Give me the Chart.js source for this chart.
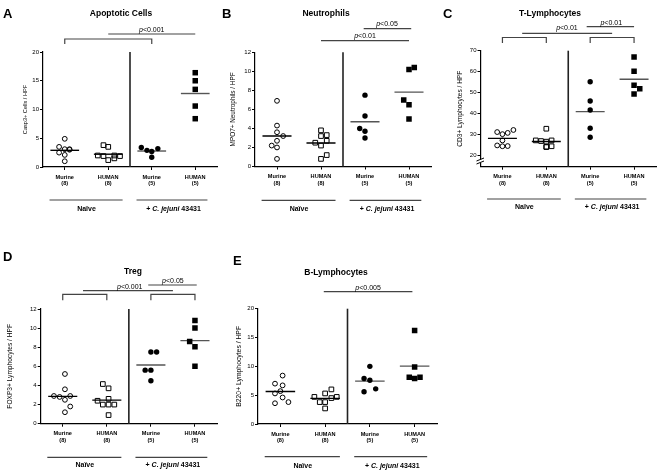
<!DOCTYPE html>
<html>
<head>
<meta charset="utf-8">
<script src="https://cdn.jsdelivr.net/npm/chart.js@4.4.1/dist/chart.umd.min.js"></script>
<style>
  body { margin: 0; background: #fff; width: 661px; height: 472px; position: relative; overflow: hidden; }
  canvas { position: absolute; }
</style>
</head>
<body>
<canvas id="cA" width="222" height="236" style="left:0;top:0"></canvas>
<canvas id="cB" width="222" height="236" style="left:220px;top:0"></canvas>
<canvas id="cC" width="221" height="236" style="left:440px;top:0"></canvas>
<canvas id="cD" width="222" height="236" style="left:0;top:236px"></canvas>
<canvas id="cE" width="230" height="236" style="left:220px;top:236px"></canvas>
<script>
// ---- data ----
const groupNames = ["Murine", "HUMAN", "Murine", "HUMAN"];
const groupSizes = ["(8)", "(8)", "(5)", "(5)"];

// A: apoptotic cells
const casp3MurNaive = [4.9, 3.5, 3.1, 3.0, 2.5, 2.1, 1.0, 3.1];
const casp3HumNaive = [3.8, 3.5, 2.0, 1.9, 2.0, 1.9, 1.2, 1.5];
const casp3MurCj = [3.4, 2.9, 2.7, 3.2, 1.7];
const casp3HumCj = [16.4, 15.0, 13.5, 10.6, 8.4];
const casp3Ticks = [0, 5, 10, 15, 20];

// B: neutrophils
const mpoMurNaive = [6.9, 4.3, 3.6, 3.2, 2.7, 2.2, 2.0, 0.8];
const mpoHumNaive = [3.8, 3.2, 3.3, 2.5, 2.7, 2.2, 1.2, 0.8];
const mpoMurCj = [7.5, 5.3, 4.0, 3.7, 3.0];
const mpoHumCj = [10.2, 10.4, 7.0, 6.5, 5.0];
const mpoTicks = [0, 2, 4, 6, 8, 10, 12];

// C: T-lymphocytes
const cd3MurNaive = [31.0, 30.0, 30.6, 32.0, 27.0, 24.6, 24.2, 24.3];
const cd3HumNaive = [32.6, 27.0, 26.7, 26.4, 27.0, 23.8, 24.2, 24.0];
const cd3MurCj = [55.1, 45.9, 41.6, 32.8, 28.5];
const cd3HumCj = [67.0, 60.1, 53.4, 51.8, 49.2];
const cd3Ticks = [20, 30, 40, 50, 60, 70];

// D: Treg
const foxp3MurNaive = [5.2, 3.6, 2.9, 2.8, 2.5, 2.9, 1.8, 1.2];
const foxp3HumNaive = [4.15, 3.7, 2.4, 2.6, 2.0, 2.0, 2.0, 0.9];
const foxp3MurCj = [7.5, 7.5, 5.6, 5.6, 4.5];
const foxp3HumCj = [10.8, 10.0, 8.6, 8.05, 6.0];
const foxp3Ticks = [0, 2, 4, 6, 8, 10, 12];

// E: B-lymphocytes
const b220MurNaive = [8.4, 7.0, 6.7, 5.7, 5.3, 4.6, 3.6, 3.8];
const b220HumNaive = [6.0, 5.3, 4.7, 4.7, 4.5, 3.8, 3.8, 2.7];
const b220MurCj = [10.0, 7.9, 7.6, 5.6, 6.1];
const b220HumCj = [16.2, 9.9, 8.1, 7.9, 8.1];
const b220Ticks = [0, 5, 10, 15, 20];

// sideways spread of the dots inside each column (category units)
const casp3Jitter = [[0, -0.13, 0, 0.11, -0.13, 0, 0, 0.11], [-0.11, 0, -0.24, -0.11, 0.14, 0.27, 0, 0.14], [-0.24, -0.11, 0, 0.14, 0], [0, 0, 0, 0, 0]];
const mpoJitter = [[0, 0, 0, 0.14, 0, -0.12, 0, 0], [0, 0, 0.13, -0.13, 0.13, 0, 0.13, 0], [0, 0, -0.12, 0, 0], [0, 0.12, -0.12, 0, 0]];
const cd3Jitter = [[-0.12, 0, 0.12, 0.25, 0, -0.12, 0, 0.12], [0, -0.24, -0.12, 0, 0.12, 0, 0.12, 0], [0, 0, 0, 0, 0], [0, 0, 0, 0.13, 0]];
const foxp3Jitter = [[0.05, 0.05, -0.2, -0.07, 0.05, 0.17, 0.17, 0.05], [-0.09, 0.04, -0.21, 0.04, -0.09, 0.04, 0.17, 0.04], [0, 0.13, -0.13, 0, 0], [0, 0, -0.12, 0, 0]];
const b220Jitter = [[0.05, -0.12, 0.05, 0, -0.12, 0.05, -0.12, 0.18], [0.14, 0, -0.24, 0.26, 0.14, -0.12, 0, 0], [0, -0.13, 0, -0.13, 0.13], [0, 0, -0.12, 0, 0.12]];

const FAM = "'Liberation Sans', Arial, sans-serif";
Chart.defaults.font.family = FAM;
Chart.defaults.color = "#000";

const mean = a => a.reduce((s, v) => s + v, 0) / a.length;

function seg(ctx, x1, y1, x2, y2, col, w) {
  ctx.beginPath();
  ctx.moveTo(x1, y1);
  ctx.lineTo(x2, y2);
  ctx.strokeStyle = col;
  ctx.lineWidth = w;
  ctx.stroke();
}

// draw pieces of text (some italic) centred on cx
function richText(ctx, parts, cx, by) {
  let w = 0;
  parts.forEach(pt => { ctx.font = pt[1]; w += ctx.measureText(pt[0]).width; });
  let x = cx - w / 2;
  ctx.textAlign = "left";
  ctx.textBaseline = "alphabetic";
  ctx.fillStyle = "#000";
  parts.forEach(pt => {
    ctx.font = pt[1];
    ctx.fillText(pt[0], x, by);
    x += ctx.measureText(pt[0]).width;
  });
}

function annot(p) {
  return {
    id: "annot" + p.id,
    afterDraw(chart) {
      const ctx = chart.ctx, ca = chart.chartArea, xs = chart.scales.x;
      const px = v => xs.getPixelForValue(v);
      ctx.save();

      // naive | infected divider
      seg(ctx, px(1.5), ca.top, px(1.5), ca.bottom, "#222", 1.6);

      if (p.axisBreak) {
        const x = ca.left, y = p.axisBreak;
        ctx.fillStyle = "#fff";
        ctx.fillRect(x - 1.5, y - 1.5, 3, 3.5);
        seg(ctx, x - 4, y, x + 3.5, y - 3, "#000", 1);
        seg(ctx, x - 4, y + 3, x + 3.5, y, "#000", 1);
      }

      // significance bars
      p.comps.forEach(c => {
        if (c.k === "br") {
          ctx.beginPath();
          ctx.moveTo(px(c.a), c.y + c.d);
          ctx.lineTo(px(c.a), c.y);
          ctx.lineTo(px(c.b), c.y);
          ctx.lineTo(px(c.b), c.y + c.d);
          ctx.strokeStyle = "#444";
          ctx.lineWidth = 1.2;
          ctx.stroke();
        } else {
          seg(ctx, px(c.a), c.y, px(c.b), c.y, "#444", 1.2);
          const tx = c.tx !== undefined ? c.tx : (c.a + c.b) / 2;
          richText(ctx, [["p", "italic 7px " + FAM], ["<" + c.t, "7px " + FAM]], px(tx), c.ty);
        }
      });

      // treatment groups under the axis
      seg(ctx, px(-0.35), p.groupY, px(1.33), p.groupY, "#444", 1.2);
      seg(ctx, px(1.65), p.groupY, px(3.28), p.groupY, "#444", 1.2);
      const bf = "bold 7px " + FAM, bi = "italic bold 7px " + FAM;
      richText(ctx, [["Naïve", bf]], px(0.5), p.groupLabelY);
      richText(ctx, [["+ ", bf], ["C. jejuni", bi], [" 43431", bf]], px(2.5), p.groupLabelY);

      // panel letter and title
      ctx.font = "bold 13px " + FAM;
      ctx.textAlign = "left";
      ctx.fillText(p.letter, p.letterX, p.letterY);
      ctx.font = "bold 8.5px " + FAM;
      ctx.textAlign = "center";
      ctx.textBaseline = "middle";
      ctx.fillText(p.title, p.titleX, p.titleY);
      ctx.restore();
    }
  };
}

const pointLooks = [
  { style: "circle", r: 2.4, fill: false },
  { style: "rect", r: 3.3, fill: false },
  { style: "circle", r: 2.7, fill: true },
  { style: "rect", r: 3.9, fill: true }
];

function buildPanel(p) {
  const cv = document.getElementById(p.id);
  const L = p.plot;
  const xH = 22;
  const yW = L.left - (p.yTitleX - 0.6 * p.yTitleSize);
  const datasets = [];
  p.values.forEach((vals, g) => {
    const look = pointLooks[g];
    datasets.push({
      data: vals.map((v, i) => ({ x: g + p.jitter[g][i], y: v })),
      pointStyle: look.style,
      pointRadius: look.r,
      pointBackgroundColor: look.fill ? "#000" : "rgba(0,0,0,0)",
      pointBorderColor: "#000",
      pointBorderWidth: look.fill ? 0 : 1,
      order: 1
    });
    const m = mean(vals);
    datasets.push({
      data: [{ x: g - 0.33, y: m }, { x: g + 0.33, y: m }],
      showLine: true,
      pointRadius: 0,
      borderColor: g < 2 ? "#000" : "#555",
      borderWidth: 1.4,
      order: 2
    });
  });

  new Chart(cv, {
    type: "scatter",
    data: { datasets },
    options: {
      responsive: false,
      animation: false,
      layout: {
        padding: { left: L.left - yW, right: cv.width - L.right, top: L.top, bottom: cv.height - L.bottom - xH }
      },
      plugins: { legend: { display: false }, tooltip: { enabled: false } },
      scales: {
        x: {
          type: "linear",
          min: -0.5,
          max: 3.5,
          afterBuildTicks: s => { s.ticks = [0, 1, 2, 3].map(v => ({ value: v })); },
          afterFit: s => { s.height = xH; },
          grid: { drawOnChartArea: false, drawTicks: true, tickLength: 3, color: "#000", lineWidth: 1 },
          border: { display: true, color: "#000", width: 1.2 },
          ticks: {
            autoSkip: false,
            maxRotation: 0,
            padding: 4,
            font: { size: 5.6, weight: "bold", lineHeight: 1.15 },
            callback: v => [groupNames[v], groupSizes[v]]
          }
        },
        y: {
          min: p.yMin,
          max: p.yMax,
          afterBuildTicks: s => { s.ticks = p.ticks.map(v => ({ value: v })); },
          afterFit: s => { s.width = yW; },
          grid: { drawOnChartArea: false, drawTicks: true, tickLength: 3, color: "#000", lineWidth: 1 },
          border: { display: true, color: "#000", width: 1.2 },
          ticks: { padding: 1, font: { size: 6 } },
          title: { display: true, text: p.yTitle, font: { size: p.yTitleSize }, padding: 0 }
        }
      }
    },
    plugins: [annot(p)]
  });
}

buildPanel({
  id: "cA", letter: "A", letterX: 3, letterY: 17.5, title: "Apoptotic Cells", titleX: 121, titleY: 14,
  yTitle: "Casp3+ Cells / HPF", yTitleSize: 5.6, yTitleX: 25,
  yMin: 0, yMax: 20, ticks: casp3Ticks,
  values: [casp3MurNaive, casp3HumNaive, casp3MurCj, casp3HumCj], jitter: casp3Jitter,
  plot: { left: 43, right: 219, top: 52, bottom: 167 },
  groupY: 200, groupLabelY: 210.5,
  comps: [
    { k: "br", a: 0, b: 2, y: 39, d: 5 },
    { k: "ln", a: 1, b: 3, y: 34, t: "0.001", ty: 32.3 }
  ]
});

buildPanel({
  id: "cB", letter: "B", letterX: 2, letterY: 17.5, title: "Neutrophils", titleX: 106, titleY: 14,
  yTitle: "MPO7+ Neutrophils / HPF", yTitleSize: 6.4, yTitleX: 13,
  yMin: 0, yMax: 12, ticks: mpoTicks,
  values: [mpoMurNaive, mpoHumNaive, mpoMurCj, mpoHumCj], jitter: mpoJitter,
  plot: { left: 35, right: 211, top: 52.3, bottom: 166.5 },
  groupY: 200.3, groupLabelY: 210.8,
  comps: [
    { k: "ln", a: 1, b: 3, y: 40.7, t: "0.01", ty: 37.5 },
    { k: "ln", a: 1.97, b: 3.05, y: 28.7, t: "0.05", ty: 25.8, tx: 2.5 }
  ]
});

buildPanel({
  id: "cC", letter: "C", letterX: 3, letterY: 17.5, title: "T-Lymphocytes", titleX: 110, titleY: 14,
  yTitle: "CD3+ Lymphocytes / HPF", yTitleSize: 6.6, yTitleX: 20,
  yMin: 14.4, yMax: 70, ticks: cd3Ticks, axisBreak: 161,
  values: [cd3MurNaive, cd3HumNaive, cd3MurCj, cd3HumCj], jitter: cd3Jitter,
  plot: { left: 40.5, right: 217, top: 50.7, bottom: 166.7 },
  groupY: 199, groupLabelY: 209.2,
  comps: [
    { k: "br", a: 0, b: 1, y: 37.5, d: 5.5 },
    { k: "br", a: 2, b: 3, y: 37.5, d: 5.5 },
    { k: "ln", a: 0.45, b: 2.5, y: 33.3, t: "0.01", ty: 29.8, tx: 1.47 },
    { k: "ln", a: 1.92, b: 3, y: 26.7, t: "0.01", ty: 25.2, tx: 2.48 }
  ]
});

buildPanel({
  id: "cD", letter: "D", letterX: 3, letterY: 25, title: "Treg", titleX: 133, titleY: 36,
  yTitle: "FOXP3+ Lymphocytes / HPF", yTitleSize: 6.6, yTitleX: 10,
  yMin: 0, yMax: 12, ticks: foxp3Ticks,
  values: [foxp3MurNaive, foxp3HumNaive, foxp3MurCj, foxp3HumCj], jitter: foxp3Jitter,
  plot: { left: 40.7, right: 220.7, top: 73, bottom: 187.7 },
  groupY: 221.3, groupLabelY: 230.5,
  comps: [
    { k: "br", a: 0, b: 1, y: 58.3, d: 6 },
    { k: "br", a: 2, b: 3, y: 58.3, d: 6 },
    { k: "ln", a: 0.46, b: 2.5, y: 54.7, t: "0.001", ty: 52.5, tx: 1.52 },
    { k: "ln", a: 1.94, b: 3.04, y: 49, t: "0.05", ty: 46.5, tx: 2.5 }
  ]
});

buildPanel({
  id: "cE", letter: "E", letterX: 13, letterY: 29, title: "B-Lymphocytes", titleX: 116, titleY: 36.3,
  yTitle: "B220+ Lymphocytes / HPF", yTitleSize: 6.8, yTitleX: 19,
  yMin: 0, yMax: 20, ticks: b220Ticks,
  values: [b220MurNaive, b220HumNaive, b220MurCj, b220HumCj], jitter: b220Jitter,
  plot: { left: 38, right: 217, top: 72.7, bottom: 188 },
  groupY: 220.7, groupLabelY: 231.5,
  comps: [
    { k: "ln", a: 0.97, b: 2.95, y: 55.7, t: "0.005", ty: 53.5 }
  ]
});
</script>
</body>
</html>
